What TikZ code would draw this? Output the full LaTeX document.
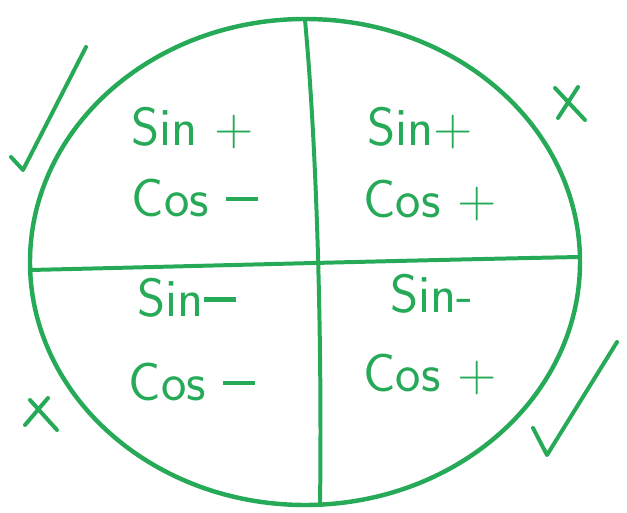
\documentclass[tikz,border=0pt]{standalone}
\usepackage{xcolor}
\usepackage{tikz}
\usetikzlibrary{positioning,calc}
\definecolor{penGreen}{RGB}{38,170,88}
\newcommand{\dash}{\rule[0.28em]{0.6em}{0.09em}}

\begin{document}
\begin{tikzpicture}[x=0.03cm,y=-0.03cm,
    every node/.style={font=\sffamily\fontsize{46}{52}\selectfont,text=penGreen},
    pen/.style={draw=penGreen,line width=3.4pt,line cap=round,line join=round}]
  \useasboundingbox (0,0) rectangle (627,513);
  % the circle
  \draw[pen,line width=3.8pt] (305,262) ellipse [x radius=275,y radius=243];
  % quadrant dividers
  \coordinate (top) at (305,20);
  \coordinate (bot) at (320,505);
  \coordinate (lft) at (30,270);
  \coordinate (rgt) at (580,257);
  \draw[pen] (top) .. controls (318,160) and (322,360) .. (bot);
  \draw[pen] (lft) .. controls (200,266) and (420,260) .. (rgt);
  % quadrant labels
  \node (sinTL) at (193,128) {Sin +};
  \node (cosTL) at (195,198) {Cos \dash};
  \node (sinTR) at (420,128) {Sin+};
  \node (cosTR) at (430,200) {Cos +};
  \node (sinBL) at (187,298) {Sin\dash};
  \node (cosBL) at (192,382) {Cos \dash};
  \node (sinBR) at (432,294) {Sin-};
  \node (cosBR) at (430,374) {Cos +};
  % ticks and crosses
  \draw[pen] (11,157) -- (23,170) -- (86,47);          % tick, top left
  \draw[pen] (533,428) -- (547,455) -- (617,342);      % tick, bottom right
  \draw[pen] (555,88) -- (585,120) (578,87) -- (558,118); % cross, top right
  \draw[pen] (30,400) -- (57,430) (25,425) -- (48,398);   % cross, bottom left
\end{tikzpicture}
\end{document}
